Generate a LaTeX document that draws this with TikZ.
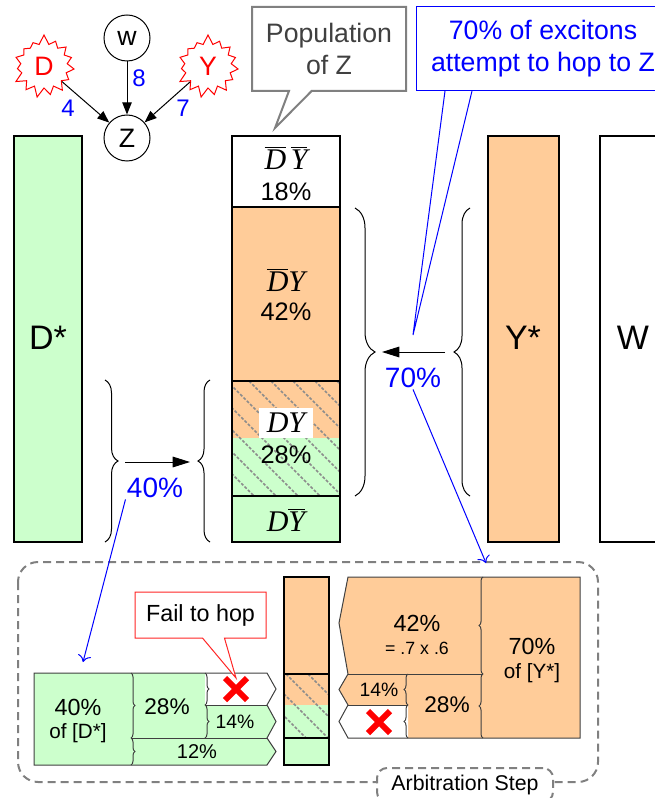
\documentclass[tikz,border=0pt]{standalone}
\usepackage{fontspec}
\setmainfont{Liberation Sans}
\newfontfamily\seriffam{Liberation Serif}
\usetikzlibrary{arrows.meta,shapes.symbols,shapes.callouts,shapes.misc,decorations.pathreplacing}

\definecolor{dgreen}{RGB}{204,255,204}
\definecolor{yorange}{RGB}{255,204,153}
\definecolor{hatchgray}{RGB}{140,140,140}
\definecolor{notegray}{RGB}{128,128,128}
\definecolor{textgray}{RGB}{64,64,64}
\definecolor{hopblue}{RGB}{0,0,255}

\newcommand{\fsz}[1]{\fontsize{#1}{#1}\selectfont}
\newcommand{\lit}[1]{\hbox{\seriffam\itshape #1}}

\tikzset{every picture/.style={line width=0.75pt},
  colbox/.style={draw=black, line width=1.5pt},
  hatchline/.style={draw=hatchgray, line width=1.1pt, dash pattern=on 2.2pt off 1.3pt},
  curly/.style={decorate, decoration={brace, amplitude=#1}},
  cell/.style={draw=textgray, line width=0.75pt},
  gnode/.style={draw, circle, minimum size=34.5pt, inner sep=0pt, font=\fsz{20}},
  burst/.style={starburst, draw=red, fill=white, text=red, starburst points=15, starburst point height=7.5pt, random starburst=7, minimum width=50pt, minimum height=48pt, inner sep=0pt, font=\fsz{20}},
  weight/.style={text=hopblue, font=\fsz{18}, inner sep=0.75pt},
  gedge/.style={-{Triangle[length=9pt,width=7pt]}},
  bigarrow/.style={-{Triangle[length=13pt,width=8pt]}},
  bluearrow/.style={draw=hopblue, -{To[length=5pt,width=10pt]}},
  bluepct/.style={text=hopblue, font=\fsz{21}, inner sep=0.75pt},
  pct/.style={font=\fsz{19}, inner sep=0.75pt},
  mathlbl/.style={font=\fsz{22.5}, inner sep=0.75pt},
  failx/.style={cross out, draw=red, line width=4.5pt, minimum size=12pt, inner sep=0pt},
}

\begin{document}
\begin{tikzpicture}[x=0.75pt,y=0.75pt,yscale=-1,xscale=1]
\useasboundingbox (0,0) rectangle (655,798);
\clip (0,0) rectangle (655,798);

%Graph: D, w, Y feeding Z
\node[gnode] (w) at (127,38) {w};
\node[gnode] (z) at (127,138) {Z};
\node[burst] (d) at (44,66) {D};
\node[burst] (y) at (208,66) {Y};
\draw[gedge] (d) -- (z);
\draw[gedge] (w) -- (z);
\draw[gedge] (y) -- (z);
\node[weight] (wd) at (68,108) {4};
\node[weight] (ww) at (139,78) {8};
\node[weight] (wy) at (183,108) {7};

%Shape: D* column
\filldraw[colbox, fill=dgreen] (14,136) rectangle (82,542);
%Shape: Y* column
\filldraw[colbox, fill=yorange] (488,136) rectangle (559,542);
%Shape: W column
\filldraw[colbox, fill=white] (600,136) rectangle (666,542);
\node[font=\fsz{25.5}] (dstar) at (48,338) {D*};
\node[font=\fsz{25.5}] (ystar) at (523,338) {Y*};
\node[font=\fsz{25.5}] (wcol) at (633,338) {W};

%Shape: population of Z
\fill[white] (232,136) rectangle (340,207);
\fill[yorange] (232,207) rectangle (340,438);
\fill[dgreen] (232,438) rectangle (340,542);
\begin{scope}
  \clip (232,381) rectangle (340,496);
  \foreach \k in {0,...,10} \draw[hatchline] (117+\k*22,381) -- ++(115,115);
\end{scope}
\draw[colbox] (232,136) rectangle (340,542);
\draw[colbox] (232,207) -- (340,207);
\draw[colbox] (232,381) -- (340,381);
\draw[colbox] (232,496) -- (340,496);

% Text Node
\node[mathlbl] (nbnb) at (286,158) {$\overline{\lit{D}}\,\overline{\lit{Y}}$};
\node[pct] (p18) at (286,192) {18\%};
\node[mathlbl] (nby) at (286,280) {$\overline{\lit{D}}\lit{Y}$};
\node[pct] (p42) at (286,312) {42\%};
\node[mathlbl, fill=white, minimum width=40.5pt, minimum height=23pt] (dy) at (286,423) {$\lit{D}\lit{Y}$};
\node[pct] (p28) at (286,455) {28\%};
\node[mathlbl] (dnb) at (286,520) {$\lit{D}\overline{\lit{Y}}$};

%Braces and hops
\draw[curly=9.75pt] (105,380) -- (105,542);
\draw[curly=9pt] (210,542) -- (210,380);
\coordinate (hopDs) at (125,462);
\coordinate (hopDe) at (190,462);
\draw[bigarrow] (hopDs) -- (hopDe);
\node[bluepct] (pct40) at (155,488) {40\%};

\draw[curly=15pt] (355,208) -- (355,496);
\draw[curly=12pt] (470,496) -- (470,208);
\coordinate (hopYs) at (445,352);
\coordinate (hopYe) at (382,352);
\draw[bigarrow] (hopYs) -- (hopYe);
\node[bluepct] (pct70) at (413,378) {70\%};

%Callouts
\coordinate (popTip) at (275,128);
\node[rectangle callout, draw=notegray, line width=1.5pt, fill=white, text=textgray, minimum width=115.5pt, minimum height=63pt, callout absolute pointer={(popTip)}, callout pointer width=17pt, align=center, font=\fontsize{20}{23.5}\selectfont] (popnote) at (329,49) {Population\\of Z};

\node[draw=hopblue, fill=white, text=hopblue, minimum width=190.5pt, minimum height=63pt, align=center, font=\fontsize{20}{24}\selectfont] (hopnote) at (543,49) {70\% of excitons\\attempt to hop to Z};
\coordinate (hopTip) at (413,335);
\coordinate (hopBaseL) at (445,91);
\coordinate (hopBaseR) at (472,91);
\fill[white] ([yshift=1pt]hopBaseL) -- (hopTip) -- ([yshift=1pt]hopBaseR) -- cycle;
\draw[hopblue] (hopBaseL) -- (hopTip) -- (hopBaseR);

%Arbitration frame
\draw[notegray, line width=1.5pt, dash pattern=on 6pt off 3.75pt, rounded corners=15pt] (18,562) rectangle (598,782);
\node[draw=notegray, line width=1.5pt, dash pattern=on 6pt off 3.75pt, rounded corners=7.5pt, fill=white, minimum width=132pt, minimum height=25.5pt, font=\fsz{16}] (arbstep) at (465,785) {Arbitration Step};

\coordinate (arbD) at (83,662);
\coordinate (arbY) at (486,563);
\draw[bluearrow] (pct40.south west) -- (arbD);
\draw[bluearrow] (pct70.south) -- (arbY);

%Shape: D* share
\fill[dgreen] (34,673) -- (267,673) -- (276,689) -- (267,705) -- (276,721.5) -- (267,738) -- (276,751.5) -- (267,765) -- (34,765) -- cycle;
\fill[white] (205,673) -- (267,673) -- (276,689) -- (267,705) -- (205,705) -- cycle;
\draw[cell] (34,673) -- (267,673) -- (276,689) -- (267,705) -- (276,721.5) -- (267,738) -- (276,751.5) -- (267,765) -- (34,765) -- cycle;
\draw[cell] (205,705) -- (267,705);
\draw[cell] (131,738) -- (267,738);
\draw[cell, curly=3pt] (131,673) -- (131,738);
\draw[cell, curly=3pt] (131,738) -- (131,765);
\draw[cell, curly=3pt] (205,673) -- (205,705);
\draw[cell, curly=3pt] (205,705) -- (205,738);
\node[font=\fsz{17.5}] (d40) at (78,707) {40\%};
\node[font=\fsz{15.5}] (dof) at (78,733) {of [D*]};
\node[font=\fsz{17}] (d28) at (167,707) {28\%};
\node[font=\fsz{14.5}] (d14) at (235,722) {14\%};
\node[font=\fsz{15}] (d12) at (197,752) {12\%};
\node[failx] (failD) at (236,689) {};

%Shape: Z share
\fill[yorange] (284,577) rectangle (329,705);
\fill[dgreen] (284,705) rectangle (329,765);
\begin{scope}
  \clip (284,674) rectangle (329,738);
  \foreach \k in {0,...,5} \draw[hatchline] (220+\k*22,674) -- ++(64,64);
\end{scope}
\draw[colbox] (284,577) rectangle (329,765);
\draw[colbox] (284,674) -- (329,674);
\draw[colbox] (284,738) -- (329,738);

%Shape: Y* share
\fill[yorange] (339,623) -- (348,577) -- (580,577) -- (580,738) -- (348,738) -- (339,721.5) -- (348,705) -- (339,689.5) -- (348,674) -- cycle;
\fill[white] (348,705) -- (408,705) -- (408,738) -- (348,738) -- (339,721.5) -- cycle;
\draw[cell] (339,623) -- (348,577) -- (580,577) -- (580,738) -- (348,738) -- (339,721.5) -- (348,705) -- (339,689.5) -- (348,674) -- cycle;
\draw[cell] (348,674) -- (483,674);
\draw[cell] (348,705) -- (408,705);
\draw[cell, curly=3pt] (408,705) -- (408,674);
\draw[cell, curly=3pt] (408,738) -- (408,705);
\draw[cell, curly=3pt] (483,674) -- (483,577);
\draw[cell, curly=3pt] (483,738) -- (483,674);
\node[font=\fsz{17.5}] (y42) at (417,623) {42\%};
\node[font=\fsz{13.3}] (yprod) at (417,648) {= .7 x .6};
\node[font=\fsz{14.5}] (y14) at (379,690) {14\%};
\node[font=\fsz{17}] (y28) at (447,705) {28\%};
\node[font=\fsz{17.5}] (y70) at (532,646) {70\%};
\node[font=\fsz{15.5}] (yof) at (532,673) {of [Y*]};
\node[failx] (failY) at (379,722) {};

%Callout: fail to hop
\coordinate (failTip) at (236,678);
\node[rectangle callout, draw=red!85!white, fill=white, minimum width=98.25pt, minimum height=34.5pt, callout absolute pointer={(failTip)}, callout pointer width=16.5pt, font=\fsz{17.5}] (failnote) at (200.5,615) {Fail to hop};

\end{tikzpicture}
\end{document}
